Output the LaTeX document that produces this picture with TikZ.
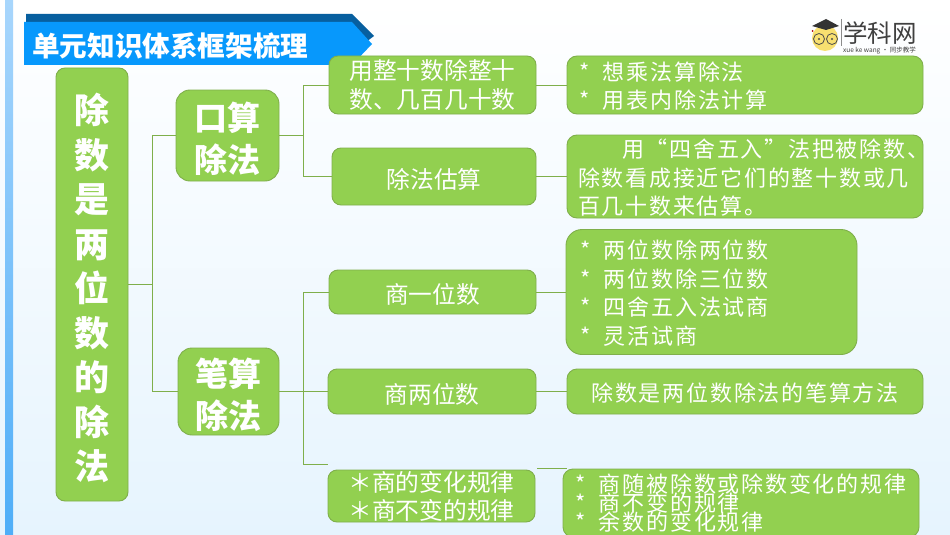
\documentclass[tikz,border=0pt]{standalone}
\usepackage{fontspec}
\usepackage{xcolor}
\setmainfont{Noto Sans CJK SC}
\newfontfamily\listfont[LetterSpace=8]{Noto Sans CJK SC}
\usetikzlibrary{shadings}

\definecolor{leafgreen}{HTML}{92D050}
\definecolor{edgegreen}{HTML}{7FAF4B}
\definecolor{bannerblue}{HTML}{0798FC}
\definecolor{bannerdark}{HTML}{075F9F}
\definecolor{stripblue}{HTML}{4FAEF8}
\definecolor{striplight}{HTML}{A8D6FC}
\definecolor{pagetint}{HTML}{E6F4FE}
\definecolor{logoyellow}{HTML}{F8E070}

\tikzset{
    drop/.style={execute at begin node={\rule{0pt}{#1}}},
    box/.style={draw=edgegreen, fill=leafgreen, line width=0.9pt, rounded corners=9pt,
        text=white, align=center, inner sep=0pt, font=\bfseries},
    bigtext/.style={text=white, align=center, inner sep=0pt, yshift=-3pt, font=\bfseries\fontsize{33}{42}\selectfont},
    bigbox/.style={box, minimum width=103pt, rounded corners=14pt},
    midbox/.style={box, font=\fontsize{23.7}{29}\selectfont, drop=25pt},
    note/.style={box, rounded corners=10pt, align=left, font=\listfont\fontsize{22}{28.4}\selectfont},
    link/.style={draw=edgegreen, line width=1pt},
}
\newcommand{\starmark}{\hspace*{6pt}\makebox[24pt][l]{*}}

\begin{document}
\begin{tikzpicture}[x=1pt, y=-1pt]
            \useasboundingbox (0, 0) rectangle (950, 535);
            \clip (0, 0) rectangle (950, 535);
            \shade[top color=white, bottom color=pagetint] (0, 0) rectangle (950, 535);
            \shade[top color=striplight, bottom color=stripblue] (5, 0) rectangle (13, 535);

            % banner
            \fill[bannerdark] (26, 14) -- (352, 14) -- (374, 36) -- (366, 42) -- (26, 42) -- cycle;
            \fill[bannerblue] (24, 22) -- (352, 22) -- (372, 44) -- (352, 65) -- (24, 65) -- cycle;
            \node[text=white, font=\bfseries\fontsize{27.6}{30}\selectfont, anchor=west, inner sep=0pt] (title) at (32, 46) {单元知识体系框架梳理};

            % logo
            \fill[logoyellow] (825, 38) circle (13);
            \draw[black!70, line width=0.8pt] (819, 39) circle (5.5);
            \draw[black!70, line width=0.8pt] (832, 39) circle (5.5);
            \fill[black!70] (819, 39) circle (1.2);
            \fill[black!70] (832, 39) circle (1.2);
            \fill[black!80] (812, 26) -- (826, 19) -- (839, 26) -- (826, 30) -- cycle;
            \fill[red!70!black] (812.5, 31) circle (1);
            \draw[black!45, line width=0.6pt] (841, 19) -- (841, 46);
            \node[text=black!75, font=\fontsize{24.5}{26}\selectfont, anchor=west, inner sep=0pt] (logoname) at (843, 33) {学科网};
            \node[text=black!75, font=\fontsize{6.5}{7}\selectfont, anchor=west, inner sep=0pt] (logosub) at (843, 50.5) {xue ke wang · 同步教学};

            % root and two branches
            \node[box, minimum width=72pt, minimum height=433pt,
                label={[bigtext, yshift=-0.5pt, font=\bfseries\fontsize{35}{44.5}\selectfont]center:{除\\数\\是\\两\\位\\数\\的\\除\\法}}] (root) at (92, 284.5) {};
            \node[bigbox, minimum height=91pt, label={[bigtext]center:{口算\\除法}}] (kousuan) at (227.5, 135.5) {};
            \node[bigbox, minimum width=101pt, minimum height=87pt, label={[bigtext]center:{笔算\\除法}}] (bisuan) at (228.5, 391.5) {};

            % middle column
            \node[midbox, minimum width=207pt, minimum height=58pt] (zhengshi) at (432.5, 85) {用整十数除整十\\数、几百几十数};
            \node[midbox, minimum width=204pt, minimum height=57pt] (gusuan) at (434, 176.5) {除法估算};
            \node[midbox, minimum width=207pt, minimum height=44pt] (shangyi) at (432.5, 292) {商一位数};
            \node[midbox, minimum width=208pt, minimum height=45pt] (shangliang) at (432, 391.5) {商两位数};
            \node[midbox, minimum width=207pt, minimum height=52pt, font=\fontsize{23.7}{28}\selectfont] (guilv) at (431.5, 496) {＊商的变化规律\\＊商不变的规律};

            % right column
            \node[note, drop=21pt, text width=344pt, minimum width=356pt, minimum height=58pt] (suanfa) at (745, 85)
                {\starmark 想乘法算除法\\\starmark 用表内除法计算};
            \node[note, drop=21pt, text width=344pt, minimum width=356pt, minimum height=83pt] (guize) at (745, 176.5)
                {\hspace*{49pt}用“四舍五入”法把被除数、\\\hspace*{5pt}除数看成接近它们的整十数或几\\\hspace*{5pt}百几十数来估算。};
            \node[note, drop=21pt, rounded corners=16pt, text width=279pt, minimum width=291pt, minimum height=125pt] (shishang) at (711.5, 292)
                {\hspace*{2pt}\starmark 两位数除两位数\\\hspace*{2pt}\starmark 两位数除三位数\\\hspace*{2pt}\starmark 四舍五入法试商\\\hspace*{2pt}\starmark 灵活试商};
            \node[note, drop=21pt, align=center, text width=344pt, minimum width=356pt, minimum height=45pt] (fangfa) at (745, 391.5)
                {除数是两位数除法的笔算方法};
            \node[note, text width=344pt, minimum width=356pt, minimum height=68pt, font={\listfont\fontsize{22}{19.2}\selectfont\lineskiplimit=-30pt}] (bianhua) at (741, 503)
                {\starmark 商随被除数或除数变化的规律\\\starmark 商不变的规律\\\starmark 余数的变化规律};

            \coordinate (rootfork) at (152, 284.5);
            \coordinate (koufork) at (303, 135.5);
            \coordinate (bifork) at (303, 391.5);
            \coordinate (guilvend) at (328, 464);
            \coordinate (bianhuastart) at (537, 468);
            \coordinate (bianhuaend) at (567, 468);

            \draw[link] (root.east) -- (rootfork); % root-fork
            \draw[link] (rootfork) |- (kousuan.west);
            \draw[link] (rootfork) |- (bisuan.west);
            \draw[link] (kousuan.east) -- (koufork);
            \draw[link] (koufork) |- (zhengshi.west);
            \draw[link] (koufork) |- (gusuan.west);
            \draw[link] (bisuan.east) -- (bifork);
            \draw[link] (bifork) |- (shangyi.west);
            \draw[link] (bifork) -- (shangliang.west);
            \draw[link] (bifork) |- (guilvend);

            \draw[link] (zhengshi.east) -- (suanfa.west);
            \draw[link] (gusuan.east) -- (guize.west);
            \draw[link] (shangyi.east) -- (shishang.west);
            \draw[link] (shangliang.east) -- (fangfa.west);
            \draw[link] (bianhuastart) -- (bianhuaend);
        \end{tikzpicture}
\end{document}
